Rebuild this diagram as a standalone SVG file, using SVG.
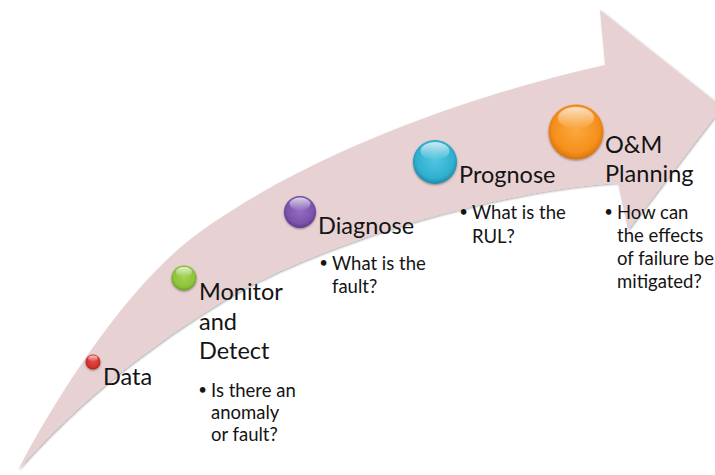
<svg xmlns="http://www.w3.org/2000/svg" width="715" height="475" viewBox="0 0 715 475">
<defs>
<style>
.h{font-family:Lato,"Open Sans","Liberation Sans",sans-serif;font-size:23.5px;fill:#141414}
.b{font-family:Lato,"Open Sans","Liberation Sans",sans-serif;font-size:18.5px;fill:#141414}
.d{font-family:Lato,"Open Sans","Liberation Sans",sans-serif;font-size:15px;fill:#141414;text-anchor:end}
.hl{fill:url(#shine)}
</style>
<filter id="sh" x="-5%" y="-5%" width="110%" height="110%">
<feGaussianBlur in="SourceAlpha" stdDeviation="1.2"/>
<feOffset dx="0.8" dy="1" result="o"/>
<feComponentTransfer><feFuncA type="linear" slope="0.35"/></feComponentTransfer>
<feMerge><feMergeNode/><feMergeNode in="SourceGraphic"/></feMerge>
</filter>
<filter id="bs" x="-30%" y="-30%" width="160%" height="160%">
<feGaussianBlur in="SourceAlpha" stdDeviation="1"/>
<feOffset dx="0" dy="1.2"/>
<feComponentTransfer><feFuncA type="linear" slope="0.4"/></feComponentTransfer>
<feMerge><feMergeNode/><feMergeNode in="SourceGraphic"/></feMerge>
</filter>
<linearGradient id="shine" x1="0" y1="0" x2="0" y2="1">
<stop offset="0" stop-color="#fff" stop-opacity="0.75"/>
<stop offset="1" stop-color="#fff" stop-opacity="0"/>
</linearGradient>
<radialGradient id="gR" cx="50%" cy="45%" r="60%"><stop offset="0" stop-color="#e84a44"/><stop offset="0.7" stop-color="#d0302c"/><stop offset="1" stop-color="#9c1c1a"/></radialGradient>
<radialGradient id="gG" cx="50%" cy="45%" r="60%"><stop offset="0" stop-color="#a6d452"/><stop offset="0.7" stop-color="#8cc23a"/><stop offset="1" stop-color="#5e8f1e"/></radialGradient>
<radialGradient id="gP" cx="50%" cy="45%" r="60%"><stop offset="0" stop-color="#9470c2"/><stop offset="0.7" stop-color="#7a52ab"/><stop offset="1" stop-color="#52307e"/></radialGradient>
<radialGradient id="gC" cx="50%" cy="45%" r="60%"><stop offset="0" stop-color="#52c6e2"/><stop offset="0.7" stop-color="#2fb0cf"/><stop offset="1" stop-color="#1a7a9c"/></radialGradient>
<radialGradient id="gO" cx="50%" cy="45%" r="60%"><stop offset="0" stop-color="#fba83e"/><stop offset="0.7" stop-color="#f5901c"/><stop offset="1" stop-color="#cc6808"/></radialGradient>
</defs>
<rect width="715" height="475" fill="#fff"/>
<g id="connectors">
<path id="flow-arrow" filter="url(#sh)" fill="#e8d1d3" d="M18,470 C60,390 130,282 200,232 C300,160 450,100 605,65 L600,10 L722,107 L628,230 L618,183 C500,190 330,240 233,295 C150,345 80,400 18,470 Z"/>
</g>
<g id="node-data">
<circle cx="93" cy="362" r="7.5" fill="url(#gR)" filter="url(#bs)"/>
<ellipse class="hl" cx="93" cy="358.5" rx="4.8" ry="3"/>
<text class="h" x="103" y="385">Data</text>
</g>
<g id="node-monitor">
<circle cx="184" cy="278" r="12.5" fill="url(#gG)" filter="url(#bs)"/>
<ellipse class="hl" cx="184" cy="272" rx="8" ry="5"/>
<text class="h" x="199" y="300">Monitor</text>
<text class="h" x="199" y="330">and</text>
<text class="h" x="199" y="359">Detect</text>
<text class="d" x="207" y="395">•</text>
<text class="b" x="211" y="397">Is there an</text>
<text class="b" x="211" y="419">anomaly</text>
<text class="b" x="211" y="441">or fault?</text>
</g>
<g id="node-diagnose">
<circle cx="300" cy="212" r="16" fill="url(#gP)" filter="url(#bs)"/>
<ellipse class="hl" cx="300" cy="204" rx="10.5" ry="6.5"/>
<text class="h" x="318" y="234">Diagnose</text>
<text class="d" x="328" y="268">•</text>
<text class="b" x="332" y="270">What is the</text>
<text class="b" x="332" y="293">fault?</text>
</g>
<g id="node-prognose">
<circle cx="435" cy="162" r="22" fill="url(#gC)" filter="url(#bs)"/>
<ellipse class="hl" cx="435" cy="151" rx="14.5" ry="9"/>
<text class="h" x="459" y="183">Prognose</text>
<text class="d" x="468" y="217">•</text>
<text class="b" x="472" y="219">What is the</text>
<text class="b" x="472" y="243">RUL?</text>
</g>
<g id="node-om">
<circle cx="576" cy="132" r="27.5" fill="url(#gO)" filter="url(#bs)"/>
<ellipse class="hl" cx="576" cy="118" rx="18" ry="11"/>
<text class="h" x="605" y="153">O&amp;M</text>
<text class="h" x="605" y="182">Planning</text>
<text class="d" x="613" y="217">•</text>
<text class="b" x="617" y="219">How can</text>
<text class="b" x="617" y="242">the effects</text>
<text class="b" x="617" y="265">of failure be</text>
<text class="b" x="617" y="288">mitigated?</text>
</g>
</svg>
